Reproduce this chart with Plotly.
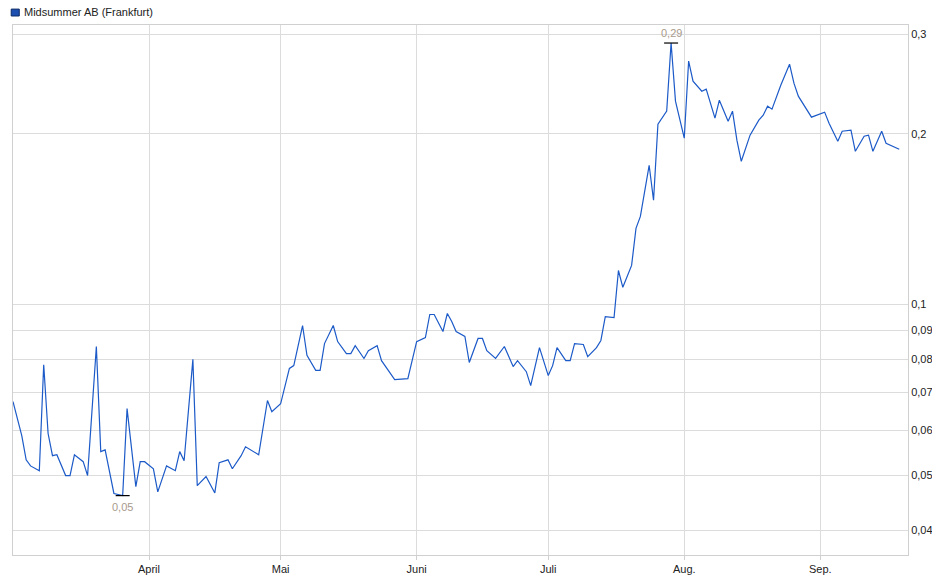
import math
import plotly.graph_objects as go

dates = [
    "2024-03-01", "2024-03-03", "2024-03-04", "2024-03-05", "2024-03-07", "2024-03-08", "2024-03-09",
    "2024-03-10", "2024-03-11", "2024-03-13", "2024-03-14", "2024-03-15", "2024-03-17", "2024-03-18",
    "2024-03-20", "2024-03-21", "2024-03-22", "2024-03-24", "2024-03-26", "2024-03-27", "2024-03-29",
    "2024-03-30", "2024-03-31",
    "2024-04-02", "2024-04-03", "2024-04-05", "2024-04-07", "2024-04-08", "2024-04-09", "2024-04-11",
    "2024-04-12", "2024-04-14", "2024-04-16", "2024-04-17", "2024-04-19", "2024-04-20", "2024-04-22",
    "2024-04-23", "2024-04-26", "2024-04-28", "2024-04-29",
    "2024-05-01", "2024-05-03", "2024-05-04", "2024-05-06", "2024-05-07", "2024-05-09", "2024-05-10",
    "2024-05-11", "2024-05-13", "2024-05-14", "2024-05-16", "2024-05-17", "2024-05-18", "2024-05-20",
    "2024-05-21", "2024-05-23", "2024-05-24", "2024-05-27", "2024-05-30",
    "2024-06-01", "2024-06-03", "2024-06-04", "2024-06-05", "2024-06-07", "2024-06-08", "2024-06-09",
    "2024-06-10", "2024-06-12", "2024-06-13", "2024-06-15", "2024-06-16", "2024-06-17", "2024-06-19",
    "2024-06-21", "2024-06-23", "2024-06-24", "2024-06-26", "2024-06-27", "2024-06-29",
    "2024-07-01", "2024-07-02", "2024-07-03", "2024-07-05", "2024-07-06", "2024-07-07", "2024-07-09",
    "2024-07-10", "2024-07-12", "2024-07-13", "2024-07-14", "2024-07-16", "2024-07-17", "2024-07-18",
    "2024-07-20", "2024-07-21", "2024-07-22", "2024-07-24", "2024-07-25", "2024-07-26", "2024-07-28",
    "2024-07-29", "2024-07-30",
    "2024-08-01", "2024-08-02", "2024-08-03", "2024-08-05", "2024-08-06", "2024-08-08", "2024-08-09",
    "2024-08-11", "2024-08-12", "2024-08-13", "2024-08-14", "2024-08-16", "2024-08-18", "2024-08-19",
    "2024-08-20", "2024-08-21", "2024-08-23", "2024-08-25", "2024-08-26", "2024-08-27", "2024-08-29",
    "2024-08-30",
    "2024-09-02", "2024-09-03", "2024-09-05", "2024-09-06", "2024-09-08", "2024-09-09", "2024-09-11",
    "2024-09-12", "2024-09-13", "2024-09-15", "2024-09-16", "2024-09-19",
]

prices = [
    0.0674, 0.0587, 0.0532, 0.0519, 0.0509, 0.0783, 0.0592, 0.0541, 0.0543, 0.0499, 0.0499, 0.0543,
    0.0528, 0.0499, 0.0843, 0.0550, 0.0554, 0.0464, 0.0460, 0.0655, 0.0477, 0.0528, 0.0528,
    0.0513, 0.0467, 0.0519, 0.0509, 0.0550, 0.0530, 0.0800, 0.0479, 0.0497, 0.0465, 0.0526, 0.0532,
    0.0513, 0.0541, 0.0561, 0.0543, 0.0677, 0.0647,
    0.0668, 0.0771, 0.0780, 0.0918, 0.0813, 0.0765, 0.0765, 0.0853, 0.0918, 0.0860, 0.0819, 0.0819,
    0.0846, 0.0803, 0.0829, 0.0846, 0.0796, 0.0737, 0.0740,
    0.0860, 0.0874, 0.0960, 0.0960, 0.0896, 0.0964, 0.0933, 0.0896, 0.0878, 0.0790, 0.0871, 0.0871,
    0.0829, 0.0803, 0.0843, 0.0777, 0.0796, 0.0761, 0.0719, 0.0839,
    0.0749, 0.0780, 0.0839, 0.0796, 0.0796, 0.0853, 0.0850, 0.0809, 0.0839, 0.0864, 0.0952, 0.0948,
    0.1148, 0.1072, 0.1172, 0.1362, 0.1430, 0.1760, 0.1527, 0.2080, 0.2193, 0.2892, 0.2284,
    0.1965, 0.2688, 0.2477, 0.2378, 0.2398, 0.2131, 0.2293, 0.2105, 0.2193, 0.1949, 0.1789, 0.1989,
    0.2114, 0.2157, 0.2238, 0.2211, 0.2437, 0.2654, 0.2457, 0.2331, 0.2202, 0.2140,
    0.2184, 0.2088, 0.1941, 0.2021, 0.2030, 0.1863, 0.1980, 0.1989, 0.1863, 0.2021, 0.1925, 0.1879,
]

month_ticks = ["2024-04-01", "2024-05-01", "2024-06-01", "2024-07-01", "2024-08-01", "2024-09-01"]
month_labels = ["April", "Mai", "Juni", "Juli", "Aug.", "Sep."]
y_ticks = [0.04, 0.05, 0.06, 0.07, 0.08, 0.09, 0.1, 0.2, 0.3]
y_labels = ["0,04", "0,05", "0,06", "0,07", "0,08", "0,09", "0,1", "0,2", "0,3"]

i_min = prices.index(min(prices))
i_max = prices.index(max(prices))

fig = go.Figure()
fig.add_trace(go.Scatter(
    x=dates, y=prices, mode="lines", name="Midsummer AB (Frankfurt)",
    line=dict(color="#1c5ac8", width=1.2), showlegend=False,
))
# min / max markers
fig.add_trace(go.Scatter(
    x=[dates[i_min], dates[i_max]], y=[prices[i_min], prices[i_max]], mode="markers",
    marker=dict(symbol="line-ew", size=10, line=dict(color="black", width=1.2)),
    showlegend=False, hoverinfo="skip",
))
# log axis: annotation y in log10 units
fig.add_annotation(x=dates[i_min], y=math.log10(prices[i_min]), text=f"{prices[i_min]:.2f}".replace(".", ","),
                   showarrow=False, yshift=-11, font=dict(color="#a89a8c", size=11))
fig.add_annotation(x=dates[i_max], y=math.log10(prices[i_max]), text=f"{prices[i_max]:.2f}".replace(".", ","),
                   showarrow=False, yshift=10, font=dict(color="#a89a8c", size=11))

# legend drawn by hand: blue square + name
fig.add_shape(type="rect", xref="paper", yref="paper",
              x0=-0.002, x1=0.007, y0=1.017, y1=1.030,
              fillcolor="#1c4fb0", line=dict(color="#0a2a66", width=1))
fig.add_annotation(xref="paper", yref="paper", x=0.01, y=1.024, xanchor="left", yanchor="middle",
                   text="Midsummer AB (Frankfurt)", showarrow=False, font=dict(size=11, color="#222"))

fig.update_layout(
    width=940, height=579,
    margin=dict(l=5, r=40, t=17, b=32),
    paper_bgcolor="white", plot_bgcolor="white",
    font=dict(family="Liberation Sans, Arial", size=11, color="#222"),
    showlegend=False,
    xaxis=dict(
        range=["2024-03-01", "2024-09-21"],
        tickvals=month_ticks, ticktext=month_labels,
        showgrid=True, gridcolor="#dcdcdc", gridwidth=1,
        showline=True, linecolor="#d0d0d0", mirror=True,
        ticks="outside", ticklen=4, tickcolor="#d0d0d0",
        zeroline=False, automargin=False,
    ),
    yaxis=dict(
        type="log", side="right",
        range=[-1.442, -0.507],
        tickvals=y_ticks, ticktext=y_labels,
        showgrid=True, gridcolor="#dcdcdc", gridwidth=1,
        showline=True, linecolor="#d0d0d0", mirror=True,
        ticks="", zeroline=False, automargin=False,
    ),
)

fig.write_html("out.html")
